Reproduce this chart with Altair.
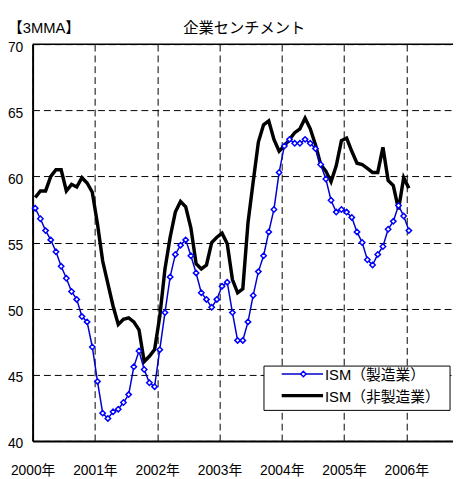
import altair as alt
import pandas as pd

# ---- data ----
months = pd.period_range("2000-01", "2006-01", freq="M")
ism_mfg = [57.6, 56.8, 55.9, 55.2, 54.3, 53.2, 52.3, 51.3, 50.7, 49.4, 49.0, 47.1,
           44.5, 42.1, 41.7, 42.2, 42.4, 42.9, 43.5, 45.6, 46.8, 45.4, 44.4, 44.1,
           46.9, 49.7, 52.4, 54.1, 54.8, 55.2, 54.0, 52.7, 51.2, 50.7, 50.1, 50.7,
           51.7, 52.0, 49.7, 47.6, 47.6, 49.0, 51.0, 52.8, 54.0, 55.8, 57.5, 60.3,
           62.3, 62.8, 62.5, 62.5, 62.8, 62.5, 62.1, 60.9, 59.8, 58.2, 57.3, 57.5,
           57.3, 56.9, 55.8, 55.0, 53.7, 53.3, 54.1, 54.7, 56.0, 56.6, 57.8, 57.0,
           55.9]
ism_nonmfg = [58.4, 58.9, 58.9, 60.0, 60.5, 60.5, 58.9, 59.4, 59.2, 59.9, 59.5, 58.8,
              56.4, 53.6, 51.9, 50.2, 48.8, 49.2, 49.3, 49.0, 48.4, 46.0, 46.4, 46.9,
              49.4, 53.0, 55.4, 57.3, 58.1, 57.7, 56.1, 53.4, 53.0, 53.3, 55.0, 55.4,
              55.7, 54.9, 52.2, 51.2, 51.5, 56.5, 59.6, 62.6, 63.9, 64.2, 62.8, 61.9,
              62.3, 62.8, 63.3, 63.6, 64.4, 63.6, 62.4, 60.9, 60.4, 59.6, 60.8, 62.7,
              62.9, 61.9, 61.0, 60.9, 60.6, 60.3, 60.3, 62.2, 59.7, 59.3, 57.5, 59.9,
              59.1]
series_names = ["ISM（製造業）", "ISM（非製造業）"]
year_ticks = [2000, 2001, 2002, 2003, 2004, 2005, 2006]
y_ticks = [40, 45, 50, 55, 60, 65, 70]
title_text = "企業センチメント"
unit_text = "【3MMA】"

pos = [p.year + (p.month - 0.5) / 12 for p in months]
df = pd.DataFrame({"t": pos, "mfg": ism_mfg, "non": ism_nonmfg})
one = pd.DataFrame({"k": [0]})

W, H = 427, 403
FONT = "Liberation Sans, Noto Sans CJK JP"

xs = alt.Scale(domain=[2000, 2006.75], nice=False, zero=False)
ys = alt.Scale(domain=[40, 70], nice=False, zero=False)

x_axis = alt.Axis(values=year_ticks, labelExpr="datum.value + '年'", grid=True,
                  gridDash=[7, 4], gridColor="#000000", gridWidth=1, ticks=False,
                  domainColor="#000000", domainWidth=2, labelFontSize=14,
                  labelFont=FONT, labelColor="#000000", labelPadding=23,
                  labelOverlap=False, labelFlush=False, title=None)
y_axis = alt.Axis(values=y_ticks, grid=True, gridDash=[7, 4], gridColor="#000000",
                  gridWidth=1, ticks=False, domainColor="#000000", domainWidth=2,
                  labelFontSize=14, labelFont=FONT, labelColor="#000000",
                  labelPadding=10, labelOffset=3, labelFlush=False, title=None)

base = alt.Chart(df)

non_line = base.mark_line(color="black", strokeWidth=3.5).encode(
    x=alt.X("t:Q", scale=xs, axis=x_axis),
    y=alt.Y("non:Q", scale=ys, axis=y_axis),
)
mfg_line = base.mark_line(color="#0000CC", strokeWidth=1.5).encode(
    x=alt.X("t:Q", scale=xs), y=alt.Y("mfg:Q", scale=ys))
mfg_pts = base.mark_point(shape="diamond", filled=True, fill="white", stroke="#0000FF",
                          strokeWidth=1.5, size=30, opacity=1).encode(
    x=alt.X("t:Q", scale=xs), y=alt.Y("mfg:Q", scale=ys))

top_rule = alt.Chart(one).mark_rule(color="black", strokeWidth=1.5).encode(
    y=alt.datum(70, scale=ys))

# legend box
leg_box = alt.Chart(one).mark_rect(fill="white", stroke="black", strokeWidth=1).encode(
    x=alt.value(235), x2=alt.value(424), y=alt.value(327), y2=alt.value(372))
leg_l1 = alt.Chart(one).mark_rule(color="#0000CC", strokeWidth=1.5).encode(
    x=alt.value(253), x2=alt.value(295), y=alt.value(335))
leg_p1 = alt.Chart(one).mark_point(shape="diamond", filled=True, fill="white",
                                   stroke="#0000FF", strokeWidth=1.5, size=30,
                                   opacity=1).encode(x=alt.value(275), y=alt.value(335))
leg_t1 = alt.Chart(one).mark_text(text=series_names[0], align="left", baseline="middle",
                                  fontSize=15, font=FONT, color="black").encode(
    x=alt.value(297), y=alt.value(336))
leg_l2 = alt.Chart(one).mark_rule(color="black", strokeWidth=3.5).encode(
    x=alt.value(253), x2=alt.value(295), y=alt.value(357))
leg_t2 = alt.Chart(one).mark_text(text=series_names[1], align="left", baseline="middle",
                                  fontSize=15, font=FONT, color="black").encode(
    x=alt.value(297), y=alt.value(358))

title = alt.Chart(one).mark_text(text=title_text, align="center", baseline="middle",
                                 fontSize=15.5, font=FONT, color="black").encode(
    x=alt.value(215), y=alt.value(-16))
unit = alt.Chart(one).mark_text(text=unit_text, align="left", baseline="middle",
                                fontSize=15, font=FONT, color="black").encode(
    x=alt.value(-25), y=alt.value(-16))

chart = alt.layer(non_line, mfg_line, mfg_pts, top_rule, leg_box, leg_l1, leg_p1,
                  leg_t1, leg_l2, leg_t2, title, unit).properties(
    width=W, height=H,
    autosize=alt.AutoSizeParams(type="none"),
    padding={"left": 25, "top": 33, "right": 0, "bottom": 36},
    background="white",
).configure_view(stroke=None)

chart.save("out.html", embed_options={"renderer": "svg", "actions": False})
